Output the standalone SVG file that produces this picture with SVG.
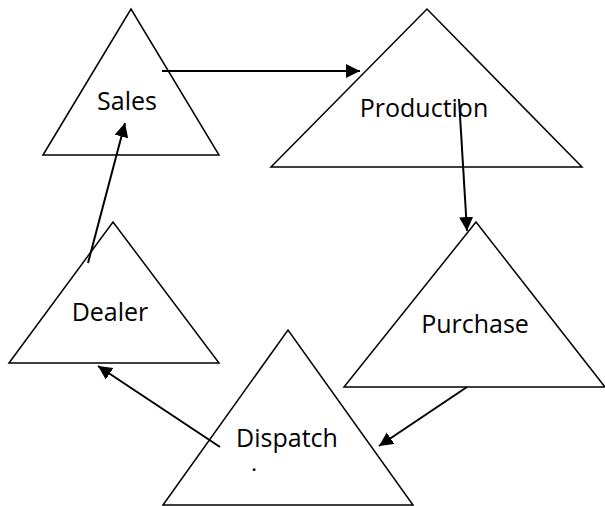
<svg xmlns="http://www.w3.org/2000/svg" width="605" height="506" viewBox="0 0 605 506">
  <style>
    .tri { fill: #ffffff; stroke: #000000; stroke-width: 1.5; stroke-linejoin: miter; }
    .lbl { font-family: "Open Sans", "Noto Sans", "Liberation Sans", sans-serif; font-size: 25px; fill: #000000; text-anchor: middle; }
    .dot { font-family: "Open Sans", "Noto Sans", "Liberation Sans", sans-serif; font-size: 16px; font-weight: bold; fill: #000000; text-anchor: middle; }
    .flow { fill: none; stroke: #000000; stroke-width: 2; marker-end: url(#head); }
  </style>
  <defs>
    <marker id="head" markerUnits="userSpaceOnUse" markerWidth="15" markerHeight="15" refX="14" refY="7" orient="auto">
      <path d="M0,0 L14,7 L0,14 Z" fill="#000000"/>
    </marker>
  </defs>
  <rect width="605" height="506" fill="#ffffff"/>

  <g id="sales">
    <polygon class="tri" points="43,155 131,9 219,155"/>
    <text class="lbl" x="127" y="110">Sales</text>
  </g>

  <g id="production">
    <polygon class="tri" points="271,167 427,9 582,167"/>
    <text class="lbl" x="424" y="117">Production</text>
  </g>

  <g id="dealer">
    <polygon class="tri" points="9,363 113,222 219,363"/>
    <text class="lbl" x="110" y="321">Dealer</text>
  </g>

  <g id="purchase">
    <polygon class="tri" points="344,387 476,222 605,387"/>
    <text class="lbl" x="475" y="333">Purchase</text>
  </g>

  <g id="dispatch">
    <polygon class="tri" points="163,505 288,330 413,505"/>
    <text class="lbl" x="287" y="447">Dispatch</text>
    <text class="dot" x="254" y="471">.</text>
  </g>

  <g id="connectors">
    <line class="flow" x1="162" y1="71" x2="360" y2="71"/>
    <line class="flow" x1="459" y1="99" x2="467" y2="231"/>
    <line class="flow" x1="467" y1="387" x2="379" y2="446"/>
    <line class="flow" x1="220" y1="447" x2="98" y2="366"/>
    <line class="flow" x1="88" y1="263" x2="125" y2="123"/>
  </g>
</svg>
